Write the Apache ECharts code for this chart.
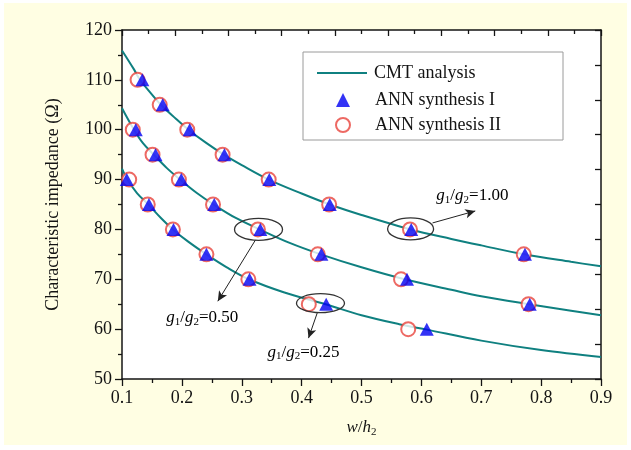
<!DOCTYPE html>
<html><head><meta charset="utf-8">
<script src="https://cdn.jsdelivr.net/npm/echarts@6/dist/echarts.min.js"></script>
<style>html,body{margin:0;padding:0;background:#fff}#c{width:631px;height:450px}</style>
</head><body><div id="c"></div>
<script>
// ---- data ----
const curveA = [[0.1,115.9],[0.12,112.1],[0.13,110],[0.14,108.5],[0.165,105],[0.19,102.2],[0.211,100],[0.24,97.4],[0.27,95],[0.3,92.9],[0.345,90],[0.4,87.2],[0.447,85],[0.5,82.9],[0.582,80],[0.65,78.1],[0.7,76.8],[0.772,75],[0.85,73.5],[0.9,72.6]];
const curveB = [[0.1,104.3],[0.12,100],[0.135,97.3],[0.153,95],[0.175,92.3],[0.197,90],[0.225,87.3],[0.253,85],[0.29,82.3],[0.33,80],[0.38,77.3],[0.432,75],[0.5,72.4],[0.572,70],[0.65,67.9],[0.7,66.6],[0.78,65],[0.85,63.7],[0.9,62.8]];
const curveC = [[0.1,92.2],[0.109,90],[0.125,87.3],[0.144,85],[0.165,82.3],[0.185,80],[0.21,77.6],[0.241,75],[0.275,72.4],[0.312,70],[0.37,67.4],[0.44,65],[0.5,62.8],[0.563,61.0],[0.609,59.9],[0.7,57.7],[0.8,55.8],[0.9,54.4]];
const annI = [[0.134,110],[0.168,105],[0.213,100],[0.271,95],[0.346,90],[0.447,85],[0.583,80],[0.773,75],
              [0.123,100],[0.156,95],[0.199,90],[0.254,85],[0.331,80],[0.433,75],[0.576,70],[0.781,65],
              [0.108,90],[0.145,85],[0.186,80],[0.241,75],[0.313,70],[0.441,65],[0.609,60]];
const annII = [[0.126,110],[0.163,105],[0.209,100],[0.268,95],[0.345,90],[0.446,85],[0.581,80],[0.771,75],
               [0.118,100],[0.151,95],[0.195,90],[0.252,85],[0.327,80],[0.427,75],[0.566,70],[0.779,65],
               [0.112,90],[0.143,85],[0.185,80],[0.241,75],[0.311,70],[0.412,65],[0.578,60]];
// annotation ellipse centres (data coords)
const ellipseCentres = [[0.582,80.1],[0.328,80.0],[0.4315,65.2]];
// arrows: start -> end (data coords)
const arrows = [[[0.6186,81.3],[0.690,83.7]],[[0.323,77.9],[0.260,65.6]],[[0.4265,63.4],[0.4115,58.2]]];
// labels: anchor (left, middle) in data coords and ratio text
const labelPos = [[0.625,86.7],[0.174,62.4],[0.343,55.4]];
const labelVal = ['1.00','0.50','0.25'];
const legendNames = ['CMT analysis','ANN synthesis I','ANN synthesis II'];
const yName = 'Characteristic impedance (Ω)';

// ---- chart ----
const SERIF = "'Liberation Serif','Times New Roman',serif";
const INK = '#141414';
const TEAL = '#0f8080';
const ellR = [[23,11],[24,11],[24,9.5]];
const chart = echarts.init(document.getElementById('c'), null, {renderer:'canvas'});
const lineSeries = [curveA, curveB, curveC].map(d => ({
  name: legendNames[0], type: 'line', data: d, smooth: 0.35, symbol: 'none',
  lineStyle: {color: TEAL, width: 2}, itemStyle: {color: TEAL}, z: 2
}));
const richLbl = {
  g: {fontFamily: SERIF, fontStyle: 'italic', fontSize: 17, color: INK},
  s: {fontFamily: SERIF, fontSize: 11, color: INK, verticalAlign: 'bottom', padding: [9,0,0,0]},
  n: {fontFamily: SERIF, fontSize: 17, color: INK}
};
chart.setOption({
  backgroundColor: '#ffffff',
  animation: false,
  graphic: [
    {type: 'rect', z: -10, silent: true, shape: {x: 4, y: 3, width: 623, height: 442}, style: {fill: '#fffee3'}},
    {type: 'rect', z: 3, silent: true, shape: {x: 303, y: 52, width: 260, height: 88}, style: {fill: '#ffffff', stroke: '#9a9a9a', lineWidth: 1}}
  ],
  grid: {left: 122, right: 30, top: 30, bottom: 71, show: true, backgroundColor: '#ffffff', borderWidth: 0},
  legend: [
    {data: [{name: legendNames[0], icon: 'rect'}], left: 317, top: 64, padding: 0, itemWidth: 50, itemHeight: 2, z: 6,
     textStyle: {fontFamily: SERIF, fontSize: 18, color: INK, padding: [0,0,0,2]}},
    {data: [legendNames[1], legendNames[2]], orient: 'vertical', left: 335, top: 91, padding: 0, itemWidth: 14, itemHeight: 14, itemGap: 7, z: 6,
     textStyle: {fontFamily: SERIF, fontSize: 18, color: INK, padding: [0,0,0,20]}}
  ],
  xAxis: [
    {type: 'value', min: 0.1, max: 0.9, interval: 0.1, position: 'bottom',
     axisLine: {show: true, onZero: false, lineStyle: {color: INK, width: 1.5}},
     axisTick: {show: true, inside: false, length: 7, lineStyle: {color: INK, width: 1.3}},
     minorTick: {show: true, splitNumber: 2, length: 4, lineStyle: {color: INK, width: 1.3}},
     splitLine: {show: false},
     axisLabel: {fontFamily: SERIF, fontSize: 18, color: INK, margin: 10, formatter: v => v.toFixed(1)},
     name: '{i|w}{n|/}{i|h}{s|2}', nameLocation: 'middle', nameGap: 39,
     nameTextStyle: {rich: {i: {fontFamily: SERIF, fontStyle: 'italic', fontSize: 17, color: INK},
                            n: {fontFamily: SERIF, fontSize: 17, color: INK},
                            s: {fontFamily: SERIF, fontSize: 11, color: INK, verticalAlign: 'bottom', padding: [9,0,0,0]}}}},
    {type: 'value', min: 0, max: 18, interval: 2, position: 'top',
     axisLine: {show: true, onZero: false, lineStyle: {color: INK, width: 1.5}},
     axisTick: {show: true, inside: true, length: 6, lineStyle: {color: INK, width: 1.3}},
     minorTick: {show: true, splitNumber: 2, length: 4, lineStyle: {color: INK, width: 1.3}},
     splitLine: {show: false}, axisLabel: {show: false}}
  ],
  yAxis: [
    {type: 'value', min: 50, max: 120, interval: 10, position: 'left',
     axisLine: {show: true, onZero: false, lineStyle: {color: INK, width: 1.5}},
     axisTick: {show: true, inside: false, length: 7, lineStyle: {color: INK, width: 1.3}},
     minorTick: {show: true, splitNumber: 2, length: 4, lineStyle: {color: INK, width: 1.3}},
     splitLine: {show: false},
     axisLabel: {fontFamily: SERIF, fontSize: 18, color: INK, margin: 10},
     name: yName, nameLocation: 'middle', nameGap: 60, nameRotate: 90,
     nameTextStyle: {fontFamily: SERIF, fontSize: 18, color: INK}},
    {type: 'value', min: 0, max: 10, interval: 1, position: 'right',
     axisLine: {show: true, onZero: false, lineStyle: {color: INK, width: 1.5}},
     axisTick: {show: true, inside: true, length: 6, lineStyle: {color: INK, width: 1.3}},
     splitLine: {show: false}, axisLabel: {show: false}}
  ],
  series: [
    ...lineSeries,
    {name: legendNames[2], type: 'scatter', data: annII, symbol: 'emptyCircle', symbolSize: 14,
     itemStyle: {color: '#e8433c', borderColor: '#e8433c', borderWidth: 1.1}, z: 3},
    {name: legendNames[1], type: 'scatter', data: annI, symbol: 'triangle', symbolSize: [14, 13],
     itemStyle: {color: '#0000f2'}, z: 4},
    {name: 'ellipses', type: 'custom', data: ellipseCentres, clip: false, silent: true, z: 5,
     renderItem: (params, api) => {
       const c = api.coord([api.value(0), api.value(1)]);
       const r = ellR[params.dataIndex];
       return {type: 'ellipse', shape: {cx: c[0], cy: c[1], rx: r[0], ry: r[1]},
               style: {fill: 'none', stroke: '#333', lineWidth: 1.3}};
     }},
    {name: 'labels', type: 'custom', data: labelPos, clip: false, silent: true, z: 5,
     renderItem: (params, api) => {
       const c = api.coord([api.value(0), api.value(1)]);
       return {type: 'text', x: c[0], y: c[1],
               style: {text: '{g|g}{s|1}{n|/}{g|g}{s|2}{n|=' + labelVal[params.dataIndex] + '}',
                       rich: richLbl, align: 'left', verticalAlign: 'middle'}};
     }},
    {name: 'arrows', type: 'line', data: [], silent: true, z: 5,
     markLine: {silent: true, symbol: ['none', 'arrow'], symbolSize: [7, 10],
                lineStyle: {color: '#222', width: 1, type: 'solid'}, label: {show: false},
                data: arrows.map(a => [{coord: a[0]}, {coord: a[1]}])}}
  ]
});
</script></body></html>
